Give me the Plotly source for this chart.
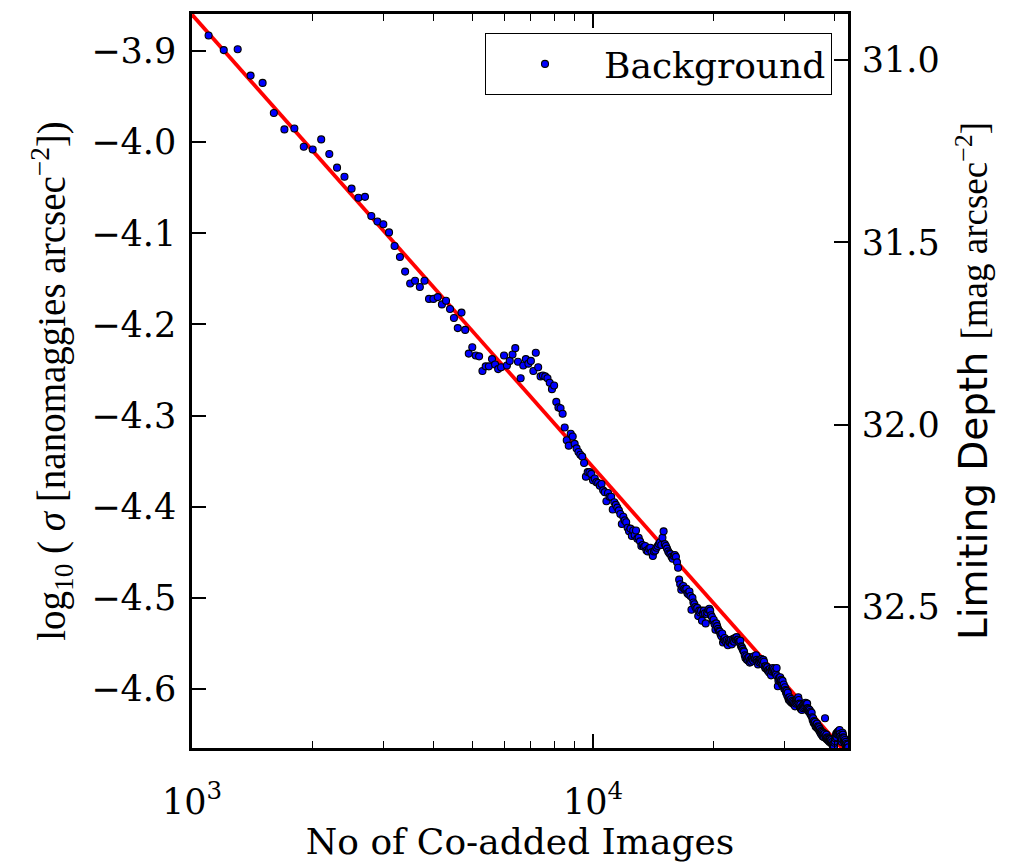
import math
import plotly.graph_objects as go

# Number of co-added images per stack
n_images = [
    1100, 1200, 1300, 1400, 1500, 1600, 1700, 1800, 1900, 2000,
    2100, 2200, 2300, 2400, 2500, 2600, 2700, 2800, 2900, 3000,
    3100, 3200, 3300, 3400, 3500, 3600, 3700, 3800, 3900, 4000,
    4100, 4200, 4300, 4400, 4500, 4600, 4700, 4800, 4900, 5000,
    5100, 5200, 5300, 5400, 5500, 5600, 5700, 5800, 5900, 6000,
    6100, 6200, 6300, 6400, 6500, 6600, 6700, 6800, 6900, 7000,
    7100, 7200, 7300, 7400, 7500, 7600, 7700, 7800, 7900, 8000,
    8100, 8200, 8300, 8400, 8500, 8600, 8700, 8800, 8900, 9000,
    9100, 9200, 9300, 9400, 9500, 9600, 9700, 9800, 9900, 10000,
    10100, 10200, 10300, 10400, 10500, 10600, 10700, 10800, 10900, 11000,
    11100, 11200, 11300, 11400, 11500, 11600, 11700, 11800, 11900, 12000,
    12100, 12200, 12300, 12400, 12500, 12600, 12700, 12800, 12900, 13000,
    13100, 13200, 13300, 13400, 13500, 13600, 13700, 13800, 13900, 14000,
    14100, 14200, 14300, 14400, 14500, 14600, 14700, 14800, 14900, 15000,
    15100, 15200, 15300, 15400, 15500, 15600, 15700, 15800, 15900, 16000,
    16100, 16200, 16300, 16400, 16500, 16600, 16700, 16800, 16900, 17000,
    17100, 17200, 17300, 17400, 17500, 17600, 17700, 17800, 17900, 18000,
    18100, 18200, 18300, 18400, 18500, 18600, 18700, 18800, 18900, 19000,
    19100, 19200, 19300, 19400, 19500, 19600, 19700, 19800, 19900, 20000,
    20100, 20200, 20300, 20400, 20500, 20600, 20700, 20800, 20900, 21000,
    21100, 21200, 21300, 21400, 21500, 21600, 21700, 21800, 21900, 22000,
    22100, 22200, 22300, 22400, 22500, 22600, 22700, 22800, 22900, 23000,
    23100, 23200, 23300, 23400, 23500, 23600, 23700, 23800, 23900, 24000,
    24100, 24200, 24300, 24400, 24500, 24600, 24700, 24800, 24900, 25000,
    25100, 25200, 25300, 25400, 25500, 25600, 25700, 25800, 25900, 26000,
    26100, 26200, 26300, 26400, 26500, 26600, 26700, 26800, 26900, 27000,
    27100, 27200, 27300, 27400, 27500, 27600, 27700, 27800, 27900, 28000,
    28100, 28200, 28300, 28400, 28500, 28600, 28700, 28800, 28900, 29000,
    29100, 29200, 29300, 29400, 29500, 29600, 29700, 29800, 29900, 30000,
    30100, 30200, 30300, 30400, 30500, 30600, 30700, 30800, 30900, 31000,
    31100, 31200, 31300, 31400, 31500, 31600, 31700, 31800, 31900, 32000,
    32100, 32200, 32300, 32400, 32500, 32600, 32700, 32800, 32900, 33000,
    33100, 33200, 33300, 33400, 33500, 33600, 33700, 33800, 33900, 34000,
    34100, 34200, 34300, 34400, 34500, 34600, 34700, 34800, 34900, 35000,
    35100, 35200, 35300, 35400, 35500, 35600, 35700, 35800, 35900, 36000,
    36100, 36200, 36300, 36400, 36500, 36600, 36700, 36800, 36900, 37000,
    37100, 37200, 37300, 37400, 37500, 37600, 37700, 37800, 37900, 38000,
    38100, 38200, 38300, 38400, 38500, 38600, 38700, 38800, 38900, 39000,
    39100, 39200, 39300, 39400, 39500, 39600, 39700, 39800, 39900, 40000,
    40100, 40200, 40300, 40400, 40500, 40600, 40700, 40800, 40900, 41000,
    41100, 41200, 41300, 41400, 41500, 41600, 41700, 41800, 41900, 42000,
    42100, 42200, 42300, 42400, 42500, 42600, 42700, 42800, 42900, 43000,
    43100, 43200, 43300,
]

# log10 of the background noise sigma (nanomaggies / arcsec^2)
log_sigma = [
    -3.883, -3.899, -3.898, -3.927, -3.935, -3.968, -3.986, -3.985, -4.005, -4.008,
    -3.997, -4.013, -4.028, -4.038, -4.051, -4.061, -4.060, -4.081, -4.087, -4.090,
    -4.099, -4.114, -4.126, -4.142, -4.155, -4.152, -4.159, -4.152, -4.172, -4.172,
    -4.170, -4.178, -4.174, -4.183, -4.193, -4.204, -4.187, -4.206, -4.232, -4.225,
    -4.234, -4.235, -4.251, -4.246, -4.246, -4.238, -4.244, -4.249, -4.247, -4.234,
    -4.245, -4.240, -4.233, -4.226, -4.241, -4.259, -4.245, -4.238, -4.243, -4.240,
    -4.251, -4.231, -4.247, -4.257, -4.256, -4.257, -4.259, -4.264, -4.271, -4.267,
    -4.285, -4.291, -4.292, -4.298, -4.313, -4.327, -4.333, -4.320, -4.323, -4.331,
    -4.336, -4.340, -4.343, -4.345, -4.352, -4.367, -4.362, -4.362, -4.364, -4.371,
    -4.369, -4.373, -4.374, -4.377, -4.375, -4.382, -4.384, -4.394, -4.385, -4.389,
    -4.389, -4.403, -4.395, -4.398, -4.401, -4.404, -4.408, -4.419, -4.411, -4.415,
    -4.417, -4.423, -4.427, -4.424, -4.432, -4.426, -4.431, -4.426, -4.435, -4.434,
    -4.438, -4.443, -4.442, -4.444, -4.443, -4.448, -4.449, -4.446, -4.445, -4.450,
    -4.454, -4.449, -4.448, -4.445, -4.443, -4.441, -4.439, -4.442, -4.434, -4.427,
    -4.441, -4.443, -4.446, -4.449, -4.451, -4.452, -4.455, -4.457, -4.454, -4.453,
    -4.455, -4.461, -4.467, -4.480, -4.485, -4.491, -4.488, -4.487, -4.490, -4.491,
    -4.490, -4.495, -4.496, -4.493, -4.498, -4.513, -4.500, -4.505, -4.507, -4.510,
    -4.512, -4.511, -4.520, -4.514, -4.516, -4.514, -4.525, -4.517, -4.514, -4.517,
    -4.528, -4.518, -4.516, -4.513, -4.512, -4.514, -4.519, -4.521, -4.525, -4.524,
    -4.529, -4.535, -4.528, -4.531, -4.534, -4.536, -4.537, -4.540, -4.542, -4.539,
    -4.549, -4.546, -4.544, -4.547, -4.549, -4.546, -4.552, -4.547, -4.549, -4.548,
    -4.546, -4.551, -4.547, -4.545, -4.548, -4.544, -4.546, -4.543, -4.546, -4.546,
    -4.548, -4.549, -4.547, -4.553, -4.554, -4.556, -4.558, -4.559, -4.563, -4.566,
    -4.564, -4.568, -4.566, -4.569, -4.565, -4.571, -4.568, -4.570, -4.567, -4.565,
    -4.569, -4.564, -4.567, -4.566, -4.563, -4.568, -4.570, -4.573, -4.569, -4.571,
    -4.568, -4.570, -4.567, -4.569, -4.573, -4.568, -4.570, -4.575, -4.577, -4.575,
    -4.578, -4.576, -4.580, -4.579, -4.582, -4.578, -4.581, -4.585, -4.579, -4.581,
    -4.577, -4.580, -4.578, -4.582, -4.580, -4.584, -4.577, -4.586, -4.597, -4.591,
    -4.588, -4.590, -4.587, -4.592, -4.590, -4.595, -4.591, -4.597, -4.595, -4.600,
    -4.598, -4.601, -4.604, -4.602, -4.607, -4.604, -4.610, -4.612, -4.609, -4.612,
    -4.614, -4.611, -4.615, -4.613, -4.616, -4.614, -4.617, -4.615, -4.619, -4.616,
    -4.613, -4.615, -4.611, -4.614, -4.609, -4.612, -4.616, -4.620, -4.617, -4.622,
    -4.620, -4.623, -4.619, -4.621, -4.617, -4.620, -4.616, -4.619, -4.615, -4.617,
    -4.620, -4.616, -4.621, -4.624, -4.622, -4.625, -4.623, -4.627, -4.625, -4.629,
    -4.626, -4.631, -4.634, -4.632, -4.637, -4.635, -4.638, -4.636, -4.641, -4.639,
    -4.642, -4.638, -4.643, -4.641, -4.644, -4.642, -4.646, -4.644, -4.648, -4.646,
    -4.650, -4.647, -4.649, -4.652, -4.648, -4.650, -4.653, -4.649, -4.632, -4.652,
    -4.654, -4.650, -4.655, -4.653, -4.656, -4.654, -4.657, -4.655, -4.658, -4.655,
    -4.657, -4.659, -4.656, -4.660, -4.658, -4.661, -4.664, -4.660, -4.663, -4.659,
    -4.657, -4.654, -4.652, -4.649, -4.653, -4.648, -4.650, -4.647, -4.649, -4.646,
    -4.648, -4.645, -4.649, -4.652, -4.656, -4.654, -4.658, -4.655, -4.648, -4.650,
    -4.653, -4.657, -4.654, -4.659, -4.656, -4.661, -4.658, -4.664, -4.660, -4.663,
    -4.665, -4.661, -4.664,
]

# Power-law fit: log10(sigma) = fit_intercept + fit_slope * log10(N)
fit_intercept = -2.3702
fit_slope = -0.4966
fit_n = [1000, 45000]

# Axis limits and photometric zero point for the depth axis
x_range_log = [3.0, 4.6359]
y_range = [-4.6647, -3.8594]
mag_zero_point = 21.2253
depth_ticks = [31.0, 31.5, 32.0, 32.5]
decade_ticks = [1000, 10000]
minor_ticks = [2000, 3000, 4000, 5000, 6000, 7000, 8000, 9000, 20000, 30000, 40000]

fit_log_sigma = [fit_intercept + fit_slope * math.log10(n) for n in fit_n]
depth = [mag_zero_point - 2.5 * v for v in log_sigma]
depth_range = [mag_zero_point - 2.5 * y_range[0], mag_zero_point - 2.5 * y_range[1]]

SERIF = "DejaVu Serif"
LABEL = "Liberation Serif"
TICK_SIZE = 35

fig = go.Figure()

fig.add_trace(go.Scatter(
    x=fit_n, y=fit_log_sigma, mode="lines",
    line=dict(color="#ff0000", width=3.8),
    showlegend=False, hoverinfo="skip",
))

fig.add_trace(go.Scatter(
    x=n_images, y=log_sigma, mode="markers", name="Background",
    marker=dict(color="#0000ff", size=7, line=dict(color="black", width=1.1)),
))

# Same measurements expressed as limiting depth; carries the top/right axes
fig.add_trace(go.Scatter(
    x=n_images, y=depth, mode="markers", xaxis="x2", yaxis="y2",
    marker=dict(opacity=0, size=1), showlegend=False, hoverinfo="skip",
))

tick_style = dict(ticks="inside", ticklen=14, tickwidth=1.5, tickcolor="black",
                  showgrid=False, zeroline=False, automargin=False)
minor_style = dict(ticks="inside", ticklen=7, tickwidth=1.2, tickcolor="black",
                   tickvals=minor_ticks)

fig.update_layout(
    width=1020, height=862,
    margin=dict(l=192, r=172, t=14, b=114, pad=0, autoexpand=False),
    paper_bgcolor="white", plot_bgcolor="white",
    font=dict(family=SERIF, size=TICK_SIZE, color="black"),
    legend=dict(
        x=0.9756, y=0.9741, xanchor="right", yanchor="top",
        bgcolor="white", bordercolor="black", borderwidth=1,
        font=dict(family=SERIF, size=36), itemwidth=108,
    ),
    xaxis=dict(
        type="log", range=x_range_log,
        tickvals=decade_ticks, ticktext=["10<sup>3</sup>", "10<sup>4</sup>"],
        minor=minor_style,
        showline=True, linewidth=2.5, linecolor="black", mirror=False,
        ticklabelstandoff=21,
        title=dict(text="No of Co-added Images", font=dict(family=SERIF, size=36), standoff=14),
        **tick_style,
    ),
    xaxis2=dict(
        type="log", range=x_range_log, overlaying="x", side="top", anchor="y2",
        tickvals=decade_ticks, showticklabels=False,
        minor=minor_style,
        showline=True, linewidth=2.5, linecolor="black",
        **tick_style,
    ),
    yaxis=dict(
        range=y_range, dtick=0.1, tick0=-4.0, tickformat=".1f",
        showline=True, linewidth=2.5, linecolor="black", mirror=False,
        ticklabelstandoff=6,
        title=dict(
            text="log<sub>10</sub> ( <i>σ</i> [nanomaggies arcsec<sup>−2</sup>])",
            font=dict(family=LABEL, size=39), standoff=14,
        ),
        **tick_style,
    ),
    yaxis2=dict(
        overlaying="y", side="right", anchor="x2",
        range=depth_range, tickvals=depth_ticks, tickformat=".1f",
        showline=True, linewidth=2.5, linecolor="black",
        ticklabelstandoff=4,
        title=dict(
            text="Limiting Depth <span style=\"font-family:'Liberation Serif';font-size:37px\">[mag arcsec<sup>−2</sup>]</span>",
            font=dict(family="DejaVu Sans", size=39), standoff=22,
        ),
        **tick_style,
    ),
)

fig.write_html("out.html")
